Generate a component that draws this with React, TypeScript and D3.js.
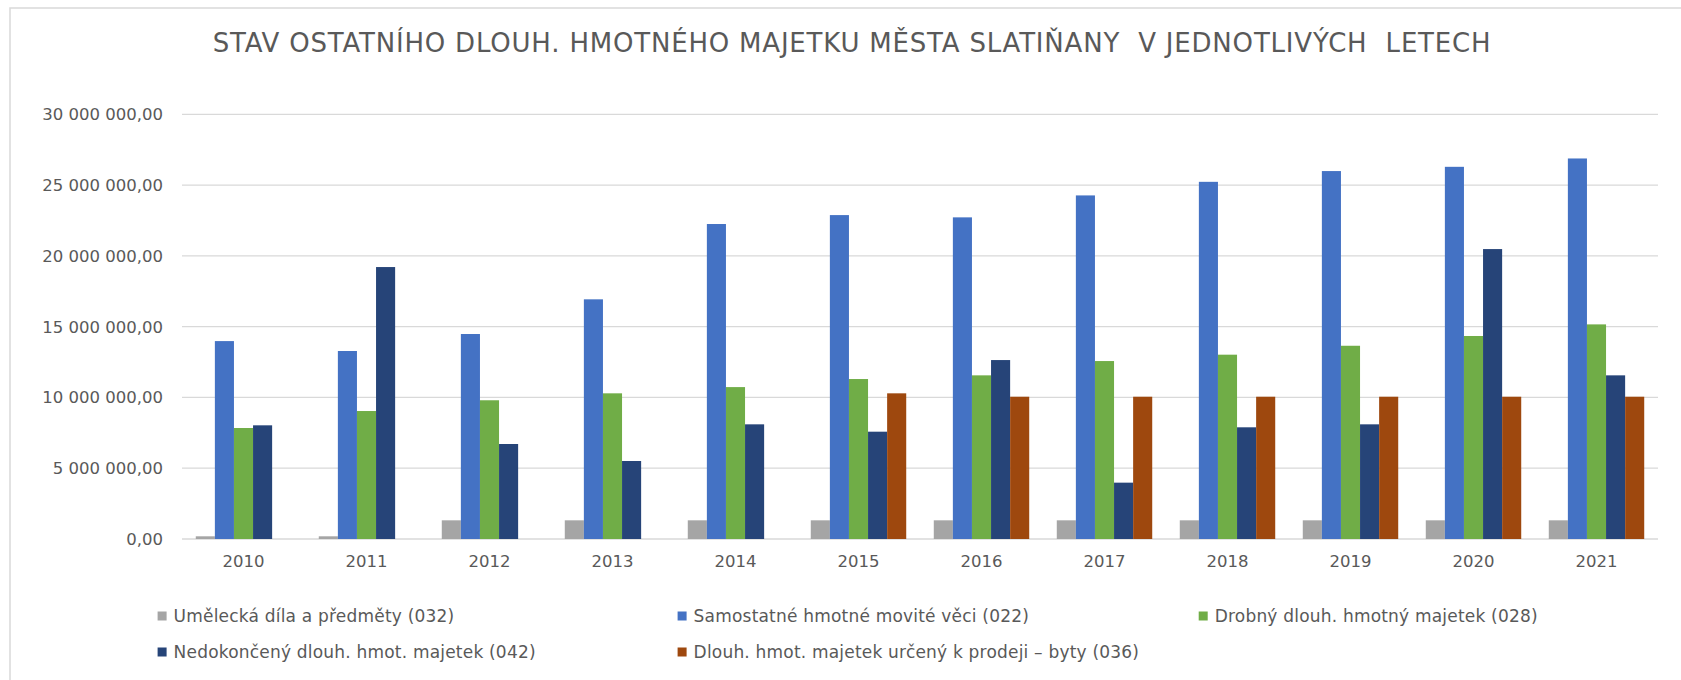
import React, { useEffect, useRef } from "react";
import * as d3 from "d3";

const years = ["2010", "2011", "2012", "2013", "2014", "2015", "2016", "2017", "2018", "2019", "2020", "2021"];

const seriesNames = [
	"Umělecká díla a předměty (032)",
	"Samostatné hmotné movité věci (022)",
	"Drobný dlouh. hmotný majetek (028)",
	"Nedokončený dlouh. hmot. majetek (042)",
	"Dlouh. hmot. majetek určený k prodeji – byty (036)",
];

const seriesColors = ["#A5A5A5", "#4472C4", "#70AD47", "#264478", "#9E480E"];

// values in CZK
const umeleckaDila = [190000, 190000, 1320000, 1320000, 1320000, 1320000, 1320000, 1320000, 1320000, 1320000, 1320000, 1320000];
const samostatneMovite = [13980000, 13280000, 14480000, 16930000, 22250000, 22880000, 22720000, 24270000, 25230000, 25990000, 26290000, 26880000];
const drobnyMajetek = [7840000, 9040000, 9800000, 10290000, 10730000, 11300000, 11560000, 12570000, 13020000, 13650000, 14340000, 15160000];
const nedokonceny = [8030000, 19210000, 6710000, 5510000, 8100000, 7580000, 12640000, 3980000, 7890000, 8100000, 20480000, 11560000];
const kProdeji = [0, 0, 0, 0, 0, 10290000, 10050000, 10050000, 10050000, 10050000, 10050000, 10050000];

const allSeries = [umeleckaDila, samostatneMovite, drobnyMajetek, nedokonceny, kProdeji];

const yTicks = [0, 5000000, 10000000, 15000000, 20000000, 25000000, 30000000];

const fmt = (v) => {
	const s = d3.format(",.2f")(v);
	return s.replace(/,/g, " ").replace(".", ",");
};

const App = () => {
	const svgRef = useRef(null);

	useEffect(() => {
		const svg = d3.select(svgRef.current);
		svg.selectAll("*").remove();

		const font = "'DejaVu Sans', sans-serif";
		const textColor = "#595959";
		const plot = { left: 182, right: 1658, top: 114.3, bottom: 539 };

		// chart frame
		svg
			.append("rect")
			.attr("x", 10)
			.attr("y", 8)
			.attr("width", 1700)
			.attr("height", 700)
			.attr("fill", "#fff")
			.attr("stroke", "#D9D9D9")
			.attr("stroke-width", 1.5);

		svg
			.append("text")
			.attr("x", 852)
			.attr("y", 52)
			.attr("text-anchor", "middle")
			.attr("font-family", font)
			.attr("font-size", 26)
			.attr("letter-spacing", 0.8)
			.attr("fill", textColor)
			.style("white-space", "pre")
			.text("STAV OSTATNÍHO DLOUH. HMOTNÉHO MAJETKU MĚSTA SLATIŇANY  V JEDNOTLIVÝCH  LETECH");

		const x0 = d3
			.scaleBand()
			.domain(years)
			.range([plot.left, plot.right])
			.paddingInner(0.224)
			.paddingOuter(0.112);

		const x1 = d3
			.scaleBand()
			.domain(d3.range(allSeries.length))
			.range([0, x0.bandwidth()]);

		const y = d3.scaleLinear().domain([0, 30000000]).range([plot.bottom, plot.top]);

		// gridlines
		svg
			.append("g")
			.selectAll("line")
			.data(yTicks)
			.enter()
			.append("line")
			.attr("x1", plot.left)
			.attr("x2", plot.right)
			.attr("y1", (d) => y(d))
			.attr("y2", (d) => y(d))
			.attr("stroke", "#D9D9D9")
			.attr("stroke-width", 1.3);

		svg
			.append("g")
			.selectAll("text")
			.data(yTicks)
			.enter()
			.append("text")
			.attr("x", 163)
			.attr("y", (d) => y(d))
			.attr("dy", "0.36em")
			.attr("text-anchor", "end")
			.attr("font-family", font)
			.attr("font-size", 16.5)
			.attr("fill", textColor)
			.text((d) => fmt(d));

		// bars
		const groups = svg
			.append("g")
			.selectAll("g")
			.data(allSeries)
			.enter()
			.append("g")
			.attr("fill", (d, i) => seriesColors[i]);

		groups
			.selectAll("rect")
			.data((vals, si) => vals.map((v, yi) => ({ v, si, year: years[yi] })))
			.enter()
			.filter((d) => d.v > 0)
			.append("rect")
			.attr("x", (d) => x0(d.year) + x1(d.si))
			.attr("width", x1.bandwidth())
			.attr("y", (d) => y(d.v))
			.attr("height", (d) => y(0) - y(d.v));

		// x labels
		svg
			.append("g")
			.selectAll("text")
			.data(years)
			.enter()
			.append("text")
			.attr("x", (d) => x0(d) + x0.bandwidth() / 2)
			.attr("y", 561)
			.attr("dy", "0.36em")
			.attr("text-anchor", "middle")
			.attr("font-family", font)
			.attr("font-size", 16.5)
			.attr("fill", textColor)
			.text((d) => d);

		// legend
		const legendPos = [
			[157.6, 616],
			[677.6, 616],
			[1198.7, 616],
			[157.6, 652],
			[677.6, 652],
		];
		const legend = svg
			.append("g")
			.selectAll("g")
			.data(seriesNames)
			.enter()
			.append("g")
			.attr("transform", (d, i) => `translate(${legendPos[i][0]},${legendPos[i][1]})`);

		legend
			.append("rect")
			.attr("x", 0)
			.attr("y", -4.5)
			.attr("width", 9)
			.attr("height", 9)
			.attr("fill", (d, i) => seriesColors[i]);

		legend
			.append("text")
			.attr("x", 16)
			.attr("dy", "0.36em")
			.attr("font-family", font)
			.attr("font-size", 17)
			.attr("letter-spacing", 0.2)
			.attr("fill", textColor)
			.text((d) => d);
	}, []);

	return (
		<svg
			ref={svgRef}
			width="1681"
			height="680"
			style={{ position: "absolute", left: 0, top: 0, display: "block" }}
		></svg>
	);
};

export default App;
